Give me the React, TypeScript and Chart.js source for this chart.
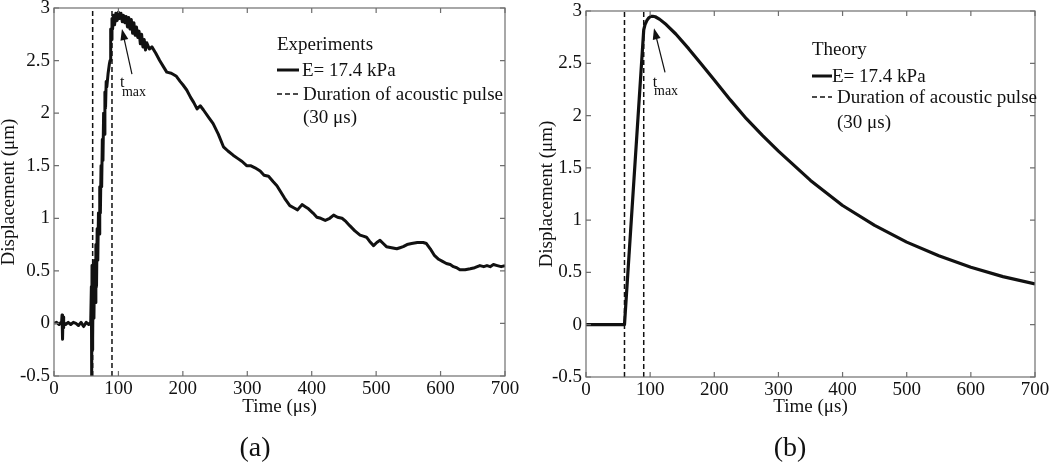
import React, { useEffect, useRef } from "react";
import { Chart, registerables } from "chart.js";
Chart.register(...registerables);

// ---------- data ----------
const xTicks = [0, 100, 200, 300, 400, 500, 600, 700];
const yTicks = [-0.5, 0, 0.5, 1, 1.5, 2, 2.5, 3];
const pulseStart = 60;
const pulseEnd = 90;

const expTime = [
  0, 4, 8, 11, 12, 12.5, 13, 13.5, 14, 14.5, 15.5, 18, 22, 26, 30, 34, 38, 42, 46, 50, 54, 57,
  58, 58.5, 59, 59.5, 60, 60.5, 61, 62, 63, 64, 65, 66, 67, 68, 69, 70, 71, 72, 73, 74, 75, 76, 77, 78, 79, 80,
  81, 82, 84, 86, 87, 88, 89, 90, 91, 92, 94, 96, 98, 100, 102, 104, 106, 108, 110, 112, 114, 116, 118, 120,
  122, 124, 126, 128, 130, 132, 134, 136, 138, 140, 142, 144, 148, 152, 158, 164, 170, 175, 182, 190, 196, 200,
  206, 212, 217, 222, 227, 232, 240, 247, 255, 263, 270, 278, 285, 292, 299, 305, 312, 320, 326, 333, 340, 346,
  352, 358, 366, 372, 378, 385, 390, 395, 402, 408, 414, 421, 428, 434, 440, 447, 453, 459, 467, 475, 480, 485,
  490, 496, 501, 506, 511, 516, 524, 532, 537, 542, 548, 555, 564, 573, 578, 584, 590, 597, 603, 609, 615, 620,
  625, 630, 638, 646, 653, 661, 667, 672, 677, 682, 688, 694, 700,
];
const expDisp = [
  0, 0.01, -0.01, 0.01, 0.03, 0.08, -0.05, -0.15, 0.06, -0.04, 0.01, -0.01, 0.01, -0.01, 0.01, 0, -0.02, 0.01, -0.03, 0.01, -0.01, 0.01,
  0.35, -0.5, 0.55, -0.25, 0.5, -0.15, 0.55, 0.05, 0.6, 0.2, 0.75, 0.35, 0.9, 0.6, 1.05, 0.85, 1.3, 1.05, 1.5, 1.3, 1.75, 1.55, 2.0, 1.8, 2.2, 2.05,
  2.3, 2.25, 2.38, 2.47, 2.5, 2.8, 2.7, 2.9, 2.8, 2.93, 2.84, 2.95, 2.88, 2.96, 2.9, 2.95, 2.87, 2.93, 2.86, 2.92, 2.82, 2.91, 2.8, 2.89,
  2.76, 2.86, 2.74, 2.82, 2.72, 2.78, 2.66, 2.75, 2.63, 2.7, 2.6, 2.67, 2.61, 2.63, 2.57, 2.5, 2.44, 2.39, 2.38, 2.35, 2.3, 2.27,
  2.22, 2.15, 2.1, 2.04, 2.07, 2.03, 1.96, 1.9, 1.8, 1.68, 1.64, 1.6, 1.57, 1.54, 1.5, 1.5, 1.48, 1.45, 1.41, 1.4, 1.35, 1.31,
  1.25, 1.19, 1.12, 1.1, 1.08, 1.13, 1.11, 1.09, 1.05, 1.01, 1.0, 0.98, 1.0, 1.03, 1.01, 1.0, 0.97, 0.93, 0.88, 0.84, 0.83, 0.82,
  0.78, 0.74, 0.77, 0.79, 0.76, 0.73, 0.72, 0.71, 0.72, 0.73, 0.75, 0.76, 0.77, 0.77, 0.76, 0.71, 0.65, 0.61, 0.59, 0.57, 0.56, 0.54,
  0.53, 0.51, 0.51, 0.52, 0.53, 0.55, 0.54, 0.55, 0.54, 0.56, 0.55, 0.54, 0.55,
];

const theoryTime = [0, 60, 75, 90, 92, 95, 98, 101, 104, 108, 115, 125, 140, 160, 180, 200, 225, 250, 275, 300, 350, 400, 450, 500, 550, 600, 650, 700];
const theoryDisp = [0, 0, 1.41, 2.82, 2.87, 2.91, 2.935, 2.948, 2.95, 2.945, 2.92, 2.87, 2.78, 2.64, 2.49, 2.34, 2.15, 1.97, 1.81, 1.66, 1.38, 1.14, 0.95, 0.79, 0.66, 0.55, 0.46, 0.39];

const legendHeaders = ["Experiments", "Theory"];
const seriesLabel = "E= 17.4 kPa";
const pulseLabel = ["Duration of acoustic pulse", "(30 μs)"];
const panelLabels = ["(a)", "(b)"];
const xTitle = "Time (μs)";
const yTitle = "Displacement (μm)";

// ---------- styling ----------
const SERIF = '"Liberation Serif", "Times New Roman", serif';
const INK = "#111";
const AXIS = "#6e6e6e";
const W = 525;
const H = 466;

const boxPlugin = {
  id: "boxTicks",
  afterDatasetsDraw(chart: any) {
    const { ctx, chartArea, scales } = chart;
    const { left, right, top, bottom } = chartArea;
    ctx.save();
    ctx.strokeStyle = AXIS;
    ctx.lineWidth = 1.2;
    ctx.setLineDash([]);
    ctx.strokeRect(left, top, right - left, bottom - top);
    ctx.beginPath();
    for (const v of xTicks) {
      const px = scales.x.getPixelForValue(v);
      ctx.moveTo(px, bottom);
      ctx.lineTo(px, bottom - 5);
      ctx.moveTo(px, top);
      ctx.lineTo(px, top + 5);
    }
    for (const v of yTicks) {
      const py = scales.y.getPixelForValue(v);
      ctx.moveTo(left, py);
      ctx.lineTo(left + 5, py);
      ctx.moveTo(right, py);
      ctx.lineTo(right - 5, py);
    }
    ctx.stroke();
    ctx.restore();
  },
};

const annotPlugin = {
  id: "annot",
  afterDraw(chart: any, _args: any, o: any) {
    const { ctx, scales } = chart;
    const X = (v: number) => scales.x.getPixelForValue(v);
    const Y = (v: number) => scales.y.getPixelForValue(v);
    ctx.save();
    // arrow to t_max
    const hx = X(o.head[0]), hy = Y(o.head[1]);
    const tx = X(o.tail[0]), ty = Y(o.tail[1]);
    const ang = Math.atan2(hy - ty, hx - tx);
    ctx.strokeStyle = INK;
    ctx.fillStyle = INK;
    ctx.lineWidth = 1.2;
    ctx.beginPath();
    ctx.moveTo(tx, ty);
    ctx.lineTo(hx - 8 * Math.cos(ang), hy - 8 * Math.sin(ang));
    ctx.stroke();
    ctx.beginPath();
    ctx.moveTo(hx, hy);
    ctx.lineTo(hx - 11 * Math.cos(ang) + 4 * Math.sin(ang), hy - 11 * Math.sin(ang) - 4 * Math.cos(ang));
    ctx.lineTo(hx - 11 * Math.cos(ang) - 4 * Math.sin(ang), hy - 11 * Math.sin(ang) + 4 * Math.cos(ang));
    ctx.closePath();
    ctx.fill();
    ctx.textAlign = "left";
    ctx.textBaseline = "alphabetic";
    ctx.font = `16px ${SERIF}`;
    ctx.fillText("t", X(o.tPos[0]), Y(o.tPos[1]));
    ctx.font = `14px ${SERIF}`;
    ctx.fillText("max", X(o.maxPos[0]), Y(o.maxPos[1]));

    // legend
    const L = o.legend;
    ctx.font = `19px ${SERIF}`;
    ctx.fillText(L.header, L.x, L.rows[0]);
    ctx.fillText(seriesLabel, L.text1, L.rows[1]);
    ctx.fillText(pulseLabel[0], L.text2, L.rows[2]);
    ctx.fillText(pulseLabel[1], L.text2, L.rows[3]);
    ctx.lineWidth = 3;
    ctx.beginPath();
    ctx.moveTo(L.x, L.rows[1] - 6);
    ctx.lineTo(L.x + L.sample, L.rows[1] - 6);
    ctx.stroke();
    ctx.lineWidth = 1.5;
    ctx.setLineDash([5, 3]);
    ctx.beginPath();
    ctx.moveTo(L.x, L.rows[2] - 6);
    ctx.lineTo(L.x + L.sample, L.rows[2] - 6);
    ctx.stroke();
    ctx.restore();
  },
};

function makeConfig(panel: number): any {
  const isExp = panel === 0;
  const area = isExp ? { left: 54, right: 505, top: 8, bottom: 376 } : { left: 61, right: 510, top: 11, bottom: 377 };
  const times = isExp ? expTime : theoryTime;
  const vals = isExp ? expDisp : theoryDisp;
  const pulseLine = (t: number) => [
    { x: t, y: yTicks[0] },
    { x: t, y: yTicks[yTicks.length - 1] },
  ];
  const tickFont = { family: SERIF, size: 19 };
  const fmt = (v: any) => String(v);
  return {
    type: "line",
    data: {
      datasets: [
        {
          label: seriesLabel,
          data: times.map((t, i) => ({ x: t, y: vals[i] })),
          borderColor: INK,
          borderWidth: isExp ? 3 : 3.2,
          pointRadius: 0,
          tension: 0,
          borderJoinStyle: "round",
        },
        {
          label: pulseLabel[0],
          data: pulseLine(pulseStart),
          borderColor: INK,
          borderWidth: 1.5,
          borderDash: [5, 3],
          pointRadius: 0,
        },
        {
          label: pulseLabel[0] + " end",
          data: pulseLine(pulseEnd),
          borderColor: INK,
          borderWidth: 1.5,
          borderDash: [5, 3],
          pointRadius: 0,
        },
      ],
    },
    options: {
      responsive: false,
      animation: false,
      events: [],
      layout: { padding: { left: 0, right: W - area.right, top: area.top, bottom: 0 } },
      plugins: {
        legend: { display: false },
        tooltip: { enabled: false },
        annot: isExp
          ? {
              head: [105.5, 2.8],
              tail: [121, 2.37],
              tPos: [102.4, 2.245],
              maxPos: [105.5, 2.164],
              legend: { header: legendHeaders[0], x: 277, sample: 22, text1: 302, text2: 303, rows: [50, 76, 100, 123] },
            }
          : {
              head: [106, 2.835],
              tail: [123.2, 2.414],
              tPos: [104, 2.27],
              maxPos: [106, 2.2],
              legend: { header: legendHeaders[1], x: 287, sample: 20, text1: 307, text2: 312, rows: [55, 82, 103, 128] },
            },
      },
      scales: {
        x: {
          type: "linear",
          min: xTicks[0],
          max: xTicks[xTicks.length - 1],
          afterBuildTicks: (s: any) => {
            s.ticks = xTicks.map((v) => ({ value: v }));
          },
          ticks: { font: tickFont, color: INK, padding: 2, maxRotation: 0, autoSkip: false, callback: fmt },
          grid: { display: false, drawTicks: false },
          border: { display: false },
          title: {
            display: true,
            text: xTitle,
            color: INK,
            font: { family: SERIF, size: 19, lineHeight: 1 },
            padding: { top: 0, bottom: 49.5 },
          },
          afterFit: (s: any) => {
            s.height = H - area.bottom;
            s.paddingLeft = 0;
            s.paddingRight = 0;
          },
        },
        y: {
          type: "linear",
          min: yTicks[0],
          max: yTicks[yTicks.length - 1],
          afterBuildTicks: (s: any) => {
            s.ticks = yTicks.map((v) => ({ value: v }));
          },
          ticks: { font: tickFont, color: INK, padding: 4, autoSkip: false, callback: fmt },
          grid: { display: false, drawTicks: false },
          border: { display: false },
          title: {
            display: true,
            text: yTitle,
            color: INK,
            font: { family: SERIF, size: 19, lineHeight: 1 },
            padding: { top: isExp ? 0 : 12.5, bottom: 0 },
          },
          afterFit: (s: any) => {
            s.width = area.left;
            s.paddingTop = 0;
            s.paddingBottom = 0;
          },
        },
      },
    },
    plugins: [boxPlugin, annotPlugin],
  };
}

export default function App() {
  const leftRef = useRef<HTMLCanvasElement>(null);
  const rightRef = useRef<HTMLCanvasElement>(null);
  useEffect(() => {
    const c1 = new Chart(leftRef.current as HTMLCanvasElement, makeConfig(0));
    const c2 = new Chart(rightRef.current as HTMLCanvasElement, makeConfig(1));
    return () => {
      c1.destroy();
      c2.destroy();
    };
  }, []);
  const labelStyle = (cx: number): React.CSSProperties => ({
    position: "absolute",
    left: cx - 50,
    width: 100,
    top: 430,
    height: 34,
    lineHeight: "34px",
    textAlign: "center",
    fontFamily: SERIF,
    fontSize: 28,
    color: INK,
  });
  return (
    <div style={{ position: "absolute", left: 0, top: 0, width: 1050, height: 466, background: "#fff", overflow: "hidden" }}>
      <canvas ref={leftRef} width={W} height={H} style={{ position: "absolute", left: 0, top: 0, width: W, height: H }} />
      <canvas ref={rightRef} width={W} height={H} style={{ position: "absolute", left: W, top: 0, width: W, height: H }} />
      <div style={labelStyle(255)}>{panelLabels[0]}</div>
      <div style={labelStyle(790)}>{panelLabels[1]}</div>
    </div>
  );
}
